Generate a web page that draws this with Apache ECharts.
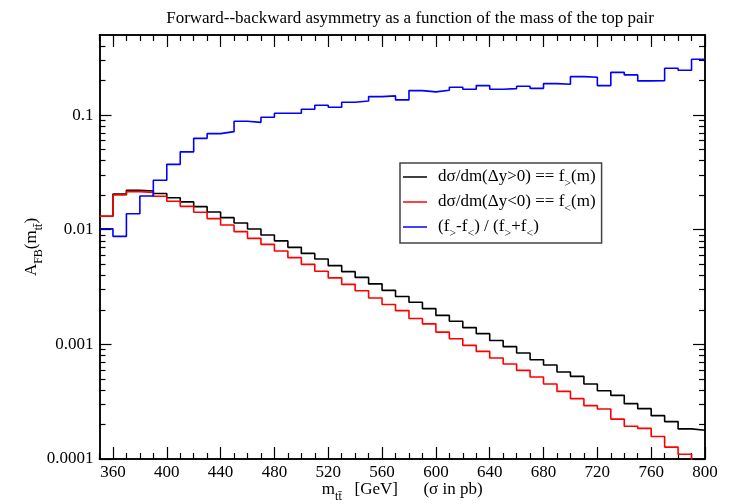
<!DOCTYPE html>
<html><head><meta charset="utf-8">
<script src="https://cdn.jsdelivr.net/npm/echarts@6/dist/echarts.min.js"></script>
<style>html,body{margin:0;padding:0;background:#fff}#c{width:735px;height:504px}</style>
</head><body><div id="c"></div>
<script>
// ---- data (bin left edges, GeV) ----
const binEdges = [350,360,370,380,390,400,410,420,430,440,450,460,470,480,490,500,510,520,530,540,
  550,560,570,580,590,600,610,620,630,640,650,660,670,680,690,700,710,720,730,740,750,760,770,780,790];
const binUpper = 800;
// d sigma/dm (Delta y > 0)
const fForward = [0.0131,0.0205,0.0221,0.0218,0.0207,0.0190,0.0175,0.0159,0.0143,0.01275,
  0.01146,0.01016,0.0090,0.00799,0.00702,0.00622,0.00556,0.00486,0.00431,0.00384,
  0.00337,0.00296,0.00262,0.00233,0.00205,0.00179,0.00159,0.00140,0.00124,0.00108,
  0.000955,0.000841,0.000735,0.000661,0.000574,0.000526,0.000451,0.000394,0.000359,0.000304,
  0.000275,0.000239,0.000212,0.000183,0.000178];
// d sigma/dm (Delta y < 0)
const fBackward = [0.0131,0.0201,0.0215,0.0212,0.0196,0.0177,0.0160,0.0142,0.0125,0.0110,
  0.00963,0.00841,0.00746,0.00653,0.00571,0.00499,0.00434,0.00380,0.00334,0.00294,
  0.00254,0.00223,0.00197,0.00168,0.00151,0.00128,0.00112,0.00098,0.000869,0.000761,
  0.000675,0.000593,0.000519,0.000451,0.000389,0.000336,0.000292,0.000273,0.000223,0.000193,
  0.000185,0.000157,0.000127,0.000110,0.00008];
// (f> - f<)/(f> + f<)
const asymmetry = [0.0102,0.00876,0.0138,0.0197,0.0270,0.0372,0.0478,0.0627,0.0690,0.0718,
  0.0883,0.0865,0.0957,0.1037,0.1037,0.1124,0.1218,0.1170,0.1294,0.1330,
  0.1450,0.1471,0.1357,0.1636,0.1594,0.1646,0.1748,0.1679,0.1809,0.1679,
  0.1703,0.1784,0.1713,0.1883,0.1857,0.2168,0.2137,0.1809,0.2362,0.2243,
  0.1988,0.1995,0.2561,0.2460,0.3068];
const seriesNames = ['fwd','bwd','asym'];
const xTickValues = [360,400,440,480,520,560,600,640,680,720,760,800];
const xTickLabels = ['360','400','440','480','520','560','600','640','680','720','760','800'];
const xMinorTicks = [350,370,380,390,410,420,430,450,460,470,490,500,510,530,540,550,570,580,590,
  610,620,630,650,660,670,690,700,710,730,740,750,770,780,790];
const yTickValues = [0.0001,0.001,0.01,0.1];
const yTickLabels = ['0.0001','0.001','0.01','0.1'];
const yMinorTicks = [0.0002,0.0003,0.0004,0.0005,0.0006,0.0007,0.0008,0.0009,
  0.002,0.003,0.004,0.005,0.006,0.007,0.008,0.009,
  0.02,0.03,0.04,0.05,0.06,0.07,0.08,0.09,0.2,0.3,0.4];

// ---- chart ----
const FONT = '"Liberation Serif","Times New Roman",serif';
const FS = 17;
const X_MIN = 350, X_MAX = 800, Y_MIN = 0.0001, Y_MAX = 0.5;
const subRich = {s: {fontFamily: FONT, fontSize: 12, color: '#000', verticalAlign: 'bottom', lineHeight: 4, padding: [0,0,-3,0]}};

function steps(vals) {
  const pts = binEdges.map((x, i) => [x, vals[i]]);
  pts.push([binUpper, vals[vals.length - 1]]);
  return pts;
}
function xAx(pos, ticks, len, withLabels) {
  return {
    type: 'value', position: pos, min: X_MIN, max: X_MAX,
    axisLine: {show: true, onZero: false, lineStyle: {color: '#000', width: 1.5}},
    axisTick: {show: true, inside: true, length: len, customValues: ticks, lineStyle: {color: '#000', width: 1.2}},
    axisLabel: withLabels ? {
      show: true, customValues: ticks, margin: 5, color: '#000', fontFamily: FONT, fontSize: FS,
      formatter: v => xTickLabels[xTickValues.indexOf(Math.round(v))]
    } : {show: false},
    splitLine: {show: false},
    name: withLabels ? 'm{s|tt\u0304}   [GeV]      (\u03c3 in pb)' : '',
    nameLocation: 'middle', nameGap: 21, nameMoveOverlap: false,
    nameTextStyle: {color: '#000', fontFamily: FONT, fontSize: FS, lineHeight: 20, rich: subRich}
  };
}
function yLabel(v) {
  let best = 0, bd = 1e9;
  yTickValues.forEach((t, i) => { const d = Math.abs(Math.log10(v) - Math.log10(t)); if (d < bd) { bd = d; best = i; } });
  return yTickLabels[best];
}
function yAx(pos, ticks, len, withLabels) {
  return {
    type: 'log', logBase: 10, position: pos, min: Y_MIN, max: Y_MAX,
    axisLine: {show: true, onZero: false, lineStyle: {color: '#000', width: 1.5}},
    axisTick: {show: true, inside: true, length: len, customValues: ticks, lineStyle: {color: '#000', width: 1.2}},
    axisLabel: withLabels ? {
      show: true, customValues: ticks, margin: 6, color: '#000', fontFamily: FONT, fontSize: FS,
      formatter: yLabel
    } : {show: false},
    splitLine: {show: false}, minorTick: {show: false},
    name: withLabels ? 'A{s|FB}(m{s|tt\u0304})' : '',
    nameLocation: 'middle', nameGap: 58, nameRotate: 90, nameMoveOverlap: false,
    nameTextStyle: {color: '#000', fontFamily: FONT, fontSize: FS, lineHeight: 20, rich: subRich}
  };
}

const chart = echarts.init(document.getElementById('c'), null, {renderer: 'canvas'});
const legendText = {
  fwd: 'd\u03c3/dm(\u0394y>0) == f{s|>}(m)',
  bwd: 'd\u03c3/dm(\u0394y<0) == f{s|<}(m)',
  asym: '(f{s|>}-f{s|<}) / (f{s|>}+f{s|<})'
};
chart.setOption({
  animation: false,
  backgroundColor: '#fff',
  title: {
    text: 'Forward--backward asymmetry as a function of the mass of the top pair',
    left: 405, textAlign: 'center', top: 5,
    textStyle: {fontFamily: FONT, fontSize: FS, fontWeight: 'normal', color: '#000'}
  },
  grid: {left: 99.5, right: 30, top: 35, bottom: 45, containLabel: false, outerBoundsMode: 'none'},
  xAxis: [
    xAx('bottom', xTickValues, 12, true),
    xAx('bottom', xMinorTicks, 6, false),
    xAx('top', xTickValues, 12, false),
    xAx('top', xMinorTicks, 6, false)
  ],
  yAxis: [
    yAx('left', yTickValues, 12, true),
    yAx('left', yMinorTicks, 6, false),
    yAx('right', yTickValues, 12, false),
    yAx('right', yMinorTicks, 6, false)
  ],
  legend: {
    show: true, orient: 'vertical', left: 400, top: 163,
    data: seriesNames,
    formatter: n => legendText[n],
    icon: 'rect', itemWidth: 24, itemHeight: 1.5, itemGap: 2,
    padding: [4, 6, 3, 3],
    backgroundColor: '#fff', borderColor: '#444', borderWidth: 1.5,
    textStyle: {fontFamily: FONT, fontSize: FS, color: '#000', lineHeight: 20, padding: [0,0,0,6], rich: subRich}
  },
  series: [
    {name: 'fwd', type: 'line', step: 'end', data: steps(fForward), symbol: 'none', xAxisIndex: 0, yAxisIndex: 0,
     lineStyle: {color: '#000', width: 1.6}, itemStyle: {color: '#000'}},
    {name: 'bwd', type: 'line', step: 'end', data: steps(fBackward), symbol: 'none', xAxisIndex: 0, yAxisIndex: 0,
     lineStyle: {color: '#ff0000', width: 1.6}, itemStyle: {color: '#ff0000'}},
    {name: 'asym', type: 'line', step: 'end', data: steps(asymmetry), symbol: 'none', xAxisIndex: 0, yAxisIndex: 0,
     lineStyle: {color: '#0000ff', width: 1.6}, itemStyle: {color: '#0000ff'}}
  ]
});
</script></body></html>
